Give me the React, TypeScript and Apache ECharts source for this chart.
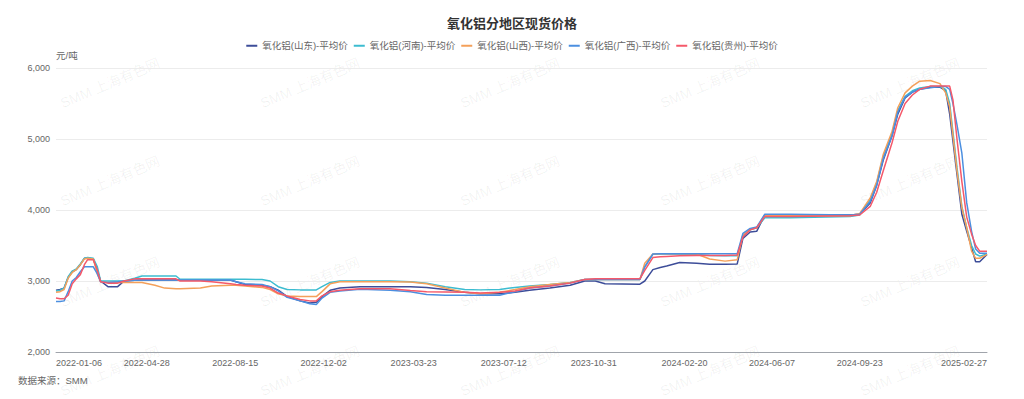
import React, { useEffect, useRef } from 'react';
import * as echarts from 'echarts';

const START = '2022-01-06';
const END = '2025-02-27';

const tickLabels = [
  '2022-01-06', '2022-04-28', '2022-08-15', '2022-12-02', '2023-03-23', '2023-07-12',
  '2023-10-31', '2024-02-20', '2024-06-07', '2024-09-23', '2025-02-27',
];

const keyDates = [
  '2022-01-06', '2022-01-11', '2022-01-16', '2022-01-21', '2022-01-26', '2022-01-31', '2022-02-05', '2022-02-10', '2022-02-14', '2022-02-21', '2022-02-26',
  '2022-03-02', '2022-03-11', '2022-03-23', '2022-03-31',
  '2022-04-13', '2022-04-22',
  '2022-05-08', '2022-05-20',
  '2022-06-03', '2022-06-08',
  '2022-07-03', '2022-07-17',
  '2022-08-09', '2022-08-16', '2022-08-27',
  '2022-09-17', '2022-09-27',
  '2022-10-07', '2022-10-18',
  '2022-11-03', '2022-11-15', '2022-11-23', '2022-11-30',
  '2022-12-10', '2022-12-22',
  '2023-01-16', '2023-02-22', '2023-03-19', '2023-04-08', '2023-05-01', '2023-05-25', '2023-06-13', '2023-07-07', '2023-07-26', '2023-08-13', '2023-09-07', '2023-10-02', '2023-10-20', '2023-11-02', '2023-11-14', '2023-12-27',
  '2024-01-02', '2024-01-12', '2024-01-21', '2024-01-29', '2024-02-14', '2024-03-06', '2024-03-22', '2024-04-10', '2024-04-25', '2024-05-02', '2024-05-11', '2024-05-19', '2024-05-29', '2024-06-29', '2024-09-11', '2024-09-23', '2024-10-06', '2024-10-14', '2024-10-22', '2024-11-02', '2024-11-09', '2024-11-18', '2024-11-27', '2024-12-06', '2024-12-19', '2024-12-31',
  '2025-01-07', '2025-01-12', '2025-01-16', '2025-01-21', '2025-01-27', '2025-02-02', '2025-02-08', '2025-02-13', '2025-02-18', '2025-02-27',
];

const shandong = [
  2870, 2880, 2900, 3050, 3130, 3160, 3230, 3320, 3320, 3310, 3150,
  3000, 2920, 2920, 3000,
  3010, 3015,
  3015, 3015,
  3015, 3015,
  3015, 3015,
  3015, 2990, 2950,
  2940, 2920,
  2870, 2780,
  2720, 2690, 2700, 2780,
  2870, 2900,
  2920, 2920, 2920, 2910, 2880, 2840, 2820, 2820, 2840, 2870, 2900, 2940, 3000, 3000, 2960, 2955,
  3000, 3160, 3190, 3210, 3260, 3250, 3235, 3235, 3240, 3600, 3690, 3700, 3930, 3930, 3930, 3940, 4100, 4350, 4700, 5050, 5350, 5580, 5660, 5700, 5730, 5730,
  5680, 5350, 4970, 4500, 3940, 3700, 3470, 3270, 3270, 3375,
];

const henan = [
  2860, 2870, 2900, 3060, 3140, 3170, 3240, 3320, 3330, 3320, 3200,
  3000, 3000, 3000, 3000,
  3040, 3070,
  3070, 3070,
  3070, 3025,
  3025, 3025,
  3025, 3025, 3025,
  3020, 3000,
  2920, 2880,
  2875, 2875, 2875, 2920,
  2980, 3000,
  3000, 3000, 2990, 2970, 2920, 2880, 2875, 2880, 2910, 2930, 2950, 2980, 3020, 3020, 3020, 3020,
  3200, 3375, 3380, 3380, 3380, 3375, 3360, 3355, 3355, 3640, 3720, 3750, 3890, 3890, 3910, 3930, 4150, 4380, 4750, 5080, 5400, 5600, 5680, 5720, 5740, 5740,
  5700, 5500, 5100, 4600, 4050, 3750, 3500, 3380, 3350, 3380,
];

const shanxi = [
  2840, 2850, 2880, 3040, 3120, 3160, 3230, 3310, 3320, 3310, 3100,
  2990, 2980, 2980, 2980,
  2980, 2980,
  2940, 2900,
  2890, 2890,
  2900, 2930,
  2940, 2940, 2930,
  2910, 2880,
  2820, 2790,
  2780, 2780, 2780, 2850,
  2960, 2990,
  2990, 2990, 2985, 2960, 2900, 2840, 2820, 2840, 2880, 2920, 2950, 2980, 3020, 3020, 3020, 3020,
  3250, 3380, 3385, 3385, 3385, 3380, 3310, 3280, 3300, 3650, 3730, 3750, 3930, 3920, 3920, 3950, 4170, 4400, 4780, 5110, 5440, 5650, 5745, 5815, 5825, 5780,
  5650, 5450, 5050, 4550, 4030, 3750, 3420, 3320, 3320, 3375,
];

const guangxi = [
  2710, 2710, 2720, 2850, 3000, 3050, 3130, 3200, 3200, 3200, 3100,
  2990, 2980, 2990, 3000,
  3010, 3015,
  3015, 3015,
  3015, 3015,
  3015, 3015,
  3015, 2990, 2960,
  2950, 2920,
  2860, 2770,
  2720, 2680, 2670, 2760,
  2840, 2860,
  2885, 2870, 2850, 2810, 2800, 2800, 2800, 2800, 2850, 2900, 2930, 2970, 3020, 3020, 3020, 3020,
  3200, 3380, 3385, 3385, 3385, 3385, 3385, 3385, 3385, 3670, 3740, 3760, 3940, 3940, 3930, 3940, 4120, 4350, 4720, 5050, 5380, 5590, 5660, 5700, 5720, 5740,
  5740, 5700, 5500, 5200, 4800, 4100, 3700, 3450, 3390, 3390,
];

const guizhou = [
  2760, 2750, 2750, 2800, 2960, 3030, 3090, 3230, 3300, 3300, 3150,
  2990, 2970, 2970, 3000,
  3030, 3030,
  3030, 3030,
  3030, 3000,
  3000, 2990,
  2960, 2950, 2940,
  2930, 2900,
  2830, 2790,
  2740, 2720, 2720, 2790,
  2850, 2870,
  2890, 2890, 2865, 2850, 2845, 2840, 2830, 2840, 2860, 2900, 2930, 2970, 3020, 3030, 3030, 3030,
  3150, 3330, 3340, 3345, 3355, 3360, 3360, 3360, 3365, 3620, 3720, 3750, 3910, 3910, 3920, 3930, 4050, 4250, 4550, 4950, 5250, 5500, 5620, 5700, 5745, 5745,
  5745, 5745, 5550, 5000, 4400, 3900, 3660, 3500, 3420, 3420,
];

const seriesNames = [
  '氧化铝(山东)-平均价',
  '氧化铝(河南)-平均价',
  '氧化铝(山西)-平均价',
  '氧化铝(广西)-平均价',
  '氧化铝(贵州)-平均价',
];
const seriesValues = [shandong, henan, shanxi, guangxi, guizhou];
const colors = ['#3d4d99', '#3cbcd0', '#f4a05a', '#4b8fe0', '#f5596a'];

const FONT = "'Liberation Sans', 'Noto Sans CJK SC', sans-serif";

function buildDays(start: string, end: string): string[] {
  const out: string[] = [];
  const s = Date.parse(start + 'T00:00:00Z');
  const e = Date.parse(end + 'T00:00:00Z');
  for (let t = s; t <= e; t += 86400000) out.push(new Date(t).toISOString().slice(0, 10));
  return out;
}

export default function App() {
  const ref = useRef<HTMLDivElement>(null);

  useEffect(() => {
    if (!ref.current) return;
    const chart = echarts.init(ref.current, undefined, { renderer: 'svg' });
    const days = buildDays(START, END);
    const tickSet = new Set(tickLabels);

    const watermarks: any[] = [];
    const wmCols = [110, 310, 510, 710, 910];
    const wmRows = [83, 181, 282, 371];
    wmRows.forEach((y) =>
      wmCols.forEach((x) =>
        watermarks.push({
          type: 'text',
          x,
          y,
          rotation: 0.4,
          silent: true,
          z: 0,
          style: {
            text: 'SMM 上海有色网',
            fill: 'rgba(0,0,0,0.06)',
            fontSize: 14,
            fontFamily: FONT,
            align: 'center',
            verticalAlign: 'middle',
          },
        })
      )
    );

    chart.setOption({
      animation: false,
      backgroundColor: '#ffffff',
      color: colors,
      title: {
        text: '氧化铝分地区现货价格',
        left: 'center',
        top: 12,
        textStyle: { fontSize: 13, fontWeight: 'bold', color: '#333', fontFamily: FONT },
      },
      legend: {
        top: 36,
        left: 'center',
        icon: 'rect',
        itemWidth: 11,
        itemHeight: 2,
        itemGap: 6,
        textStyle: { fontSize: 9.5, color: '#666', fontFamily: FONT },
        data: seriesNames,
      },
      grid: { left: 56, right: 37, top: 68, bottom: 47 },
      xAxis: {
        type: 'category',
        data: days,
        boundaryGap: false,
        axisLine: { lineStyle: { color: '#a0a4ab' } },
        axisTick: { show: false },
        splitLine: { show: false },
        axisLabel: {
          interval: (_i: number, v: string) => tickSet.has(v),
          color: '#666',
          fontSize: 9,
          margin: 6,
          fontFamily: FONT,
          alignMinLabel: 'left',
          alignMaxLabel: 'right',
        },
      },
      yAxis: {
        type: 'value',
        min: 2000,
        max: 6000,
        interval: 1000,
        name: '元/吨',
        nameLocation: 'end',
        nameGap: 8,
        nameTextStyle: { align: 'left', color: '#666', fontSize: 9.5, fontFamily: FONT },
        axisLine: { show: false },
        axisTick: { show: false },
        axisLabel: {
          color: '#666',
          fontSize: 9,
          margin: 6,
          fontFamily: FONT,
          formatter: (v: number) => v.toLocaleString('en-US'),
        },
        splitLine: { lineStyle: { color: '#ececec' } },
      },
      graphic: [
        ...watermarks,
        {
          type: 'text',
          left: 18,
          top: 376,
          silent: true,
          style: { text: '数据来源：SMM', fill: '#666', fontSize: 9.5, fontFamily: FONT },
        },
      ],
      series: seriesNames.map((name, i) => ({
        name,
        type: 'line',
        symbol: 'none',
        showSymbol: false,
        z: 3 + i,
        lineStyle: { width: 1.5, color: colors[i] },
        itemStyle: { color: colors[i] },
        data: keyDates.map((d, k) => [d, seriesValues[i][k]]),
      })),
    });

    return () => chart.dispose();
  }, []);

  return (
    <div
      ref={ref}
      style={{ position: 'fixed', left: 0, top: 0, width: 1024, height: 399, background: '#fff' }}
    />
  );
}
